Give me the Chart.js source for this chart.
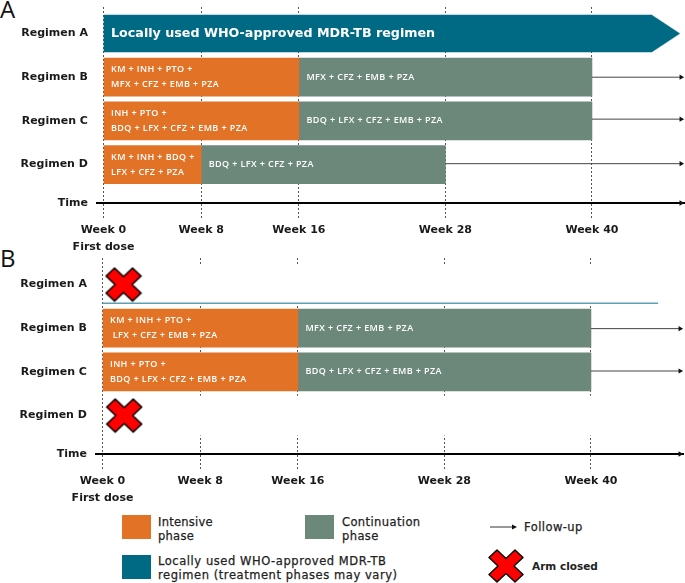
<!DOCTYPE html>
<html><head><meta charset="utf-8">
<script src="https://cdn.jsdelivr.net/npm/chart.js@4/dist/chart.umd.min.js"></script>
<style>
html,body{margin:0;padding:0;background:#fff;width:685px;height:583px;overflow:hidden;font-family:"DejaVu Sans",sans-serif;color:#222}
canvas{position:absolute;display:block}
.t{position:absolute;white-space:nowrap;font-size:11.5px;line-height:14px;letter-spacing:.25px;-webkit-text-stroke:.25px #222}
.s{position:absolute}
.p{position:absolute;font-size:24px;line-height:24px;font-family:"Open Sans",sans-serif;color:#111}
</style></head><body>
<div class="p" style="left:0;top:-3px">A</div>
<div class="p" style="left:0;top:246px">B</div>
<canvas id="a" width="685" height="254" style="left:0;top:0"></canvas>
<canvas id="b" width="685" height="255" style="left:-1px;top:251px"></canvas>
<div class="s" style="left:122px;top:515px;width:29px;height:24px;background:#E27326"></div>
<div class="t" style="left:158px;top:515px">Intensive<br>phase</div>
<div class="s" style="left:305px;top:515px;width:29px;height:24px;background:#6B887B"></div>
<div class="t" style="left:342px;top:515px;letter-spacing:.4px">Continuation<br>phase</div>
<svg class="s" style="left:489px;top:523px" width="30" height="8"><line x1="1" y1="4" x2="24" y2="4" stroke="#333" stroke-width="1"/><polygon points="23,1.5 28,4 23,6.5" fill="#111"/></svg>
<div class="t" style="left:524px;top:520px;letter-spacing:.45px">Follow-up</div>
<div class="s" style="left:122px;top:555px;width:29px;height:24px;background:#006A85"></div>
<div class="t" style="left:158px;top:554px;letter-spacing:.56px">Locally used WHO-approved MDR-TB<br>regimen (treatment phases may vary)</div>
<svg class="s" style="left:488px;top:549px" width="36" height="34"><polygon points="9,1 18,9.5 27,1 35,8.5 26,17 35,25.5 27,33 18,24.5 9,33 1,25.5 10,17 1,8.5" fill="#f00" stroke="#000" stroke-width="1.4" stroke-linejoin="round"/></svg>
<div class="t" style="left:532px;top:559px;font-size:10.5px;font-weight:bold;-webkit-text-stroke:0;letter-spacing:0">Arm closed</div>
<script>
// ---- shared ----
const regimens = ["Regimen A","Regimen B","Regimen C","Regimen D"];
const regimenRows = [0,1,2,3];
const timeRow = 3.88;
const timeLabel = "Time";
const weekTicks = [0,8,16,28,40];
const firstDoseLabel = "First dose";
const followUpEnd = 47.3;
const localEnd = 44.9;
const localTipCentre = 46.07;

// ---- panel A ----
const aIntensive = [null,[0,16],[0,16],[0,8]];
const aContinuation = [null,[16,40],[16,40],[8,28]];
const aLocal = [[0,localEnd],null,null,null];
const aFollowStart = [null,40,40,28];
const aFollowRow = [null,1,1.96,2.98];
const aIntensiveText = [null,["KM + INH + PTO +","MFX + CFZ + EMB + PZA"],["INH + PTO +","BDQ + LFX + CFZ + EMB + PZA"],["KM + INH + BDQ +","LFX + CFZ + PZA"]];
const aContinuationText = [null,"MFX + CFZ + EMB + PZA","BDQ + LFX + CFZ + EMB + PZA","BDQ + LFX + CFZ + PZA"];
const aLocalText = "Locally used WHO-approved MDR-TB regimen";

// ---- panel B ----
const bIntensive = [null,[0,16],[0,16],null];
const bContinuation = [null,[16,40],[16,40],null];
const bClosed = [[0.12,47],null,null,[0.12,47]];
const bClosedMark = [1.72,null,null,1.78];
const bFollowStart = [null,40,40,null];
const bFollowRow = [null,1.01,1.98,null];
const bDividerRow = 0.43;
const bDividerEnd = 45.5;
const bIntensiveText = [null,["KM + INH + PTO +"," LFX + CFZ + EMB + PZA"],["INH + PTO +","BDQ + LFX + CFZ + EMB + PZA"],null];
const bContinuationText = [null,"MFX + CFZ + EMB + PZA","BDQ + LFX + CFZ + EMB + PZA",null];

// ---- colours ----
const ORANGE="#E27326", GREEN="#6B887B", TEAL="#006A85", DIVIDER="#5F9FB3";
const LABEL_FONT={family:"'DejaVu Sans'",size:11,weight:"bold"};

function shape(w,h,draw){const c=document.createElement("canvas");c.width=w;c.height=h;draw(c.getContext("2d"),w,h);return c;}
const tipImage=shape(28,37,(g,w,h)=>{g.fillStyle=TEAL;g.beginPath();g.moveTo(0,0);g.lineTo(w,h/2);g.lineTo(0,h);g.closePath();g.fill();});
const crossImage=shape(38,36,(g)=>{const p=[[10,1.5],[19,10],[28,1.5],[36.5,9.5],[27.5,18],[36.5,26.5],[28,34.5],[19,26],[10,34.5],[1.5,26.5],[10.5,18],[1.5,9.5]];
  g.beginPath();p.forEach((q,i)=>i?g.lineTo(q[0],q[1]):g.moveTo(q[0],q[1]));g.closePath();g.fillStyle="#f00";g.fill();g.lineWidth=1.6;g.lineJoin="round";g.strokeStyle="#000";g.stroke();});

function rowsOf(values){return values.map((v,i)=>v===null?null:{x:v,y:regimenRows[i]}).filter(Boolean);}
function arrow(x0,x1,y,color,width,r){return {type:"line",data:[{x:x0,y},{x:x1,y}],borderColor:color,borderWidth:width,
  pointRadius:[0,r],pointStyle:"triangle",pointRotation:90,pointBackgroundColor:"#111",pointBorderWidth:0,clip:false,order:1};}

const barText={id:"barText",afterDatasetsDraw(chart,args,opts){
  const g=chart.ctx,x=chart.scales.x,y=chart.scales.y;
  g.save();g.fillStyle="#fff";g.textBaseline="middle";
  (opts.items||[]).forEach(it=>{
    g.font=it.font;g.letterSpacing=it.spacing||"0px";
    const lines=Array.isArray(it.text)?it.text:[it.text];
    const cy=y.getPixelForValue(it.row);
    lines.forEach((l,i)=>g.fillText(l,x.getPixelForValue(it.start)+7.5,cy+(i-(lines.length-1)/2)*15));
  });
  g.restore();
}};

function build(id,p){
  const H=document.getElementById(id).height;
  const datasets=[];
  if(p.closed) datasets.push({type:"bar",grouped:false,data:rowsOf(p.closed),backgroundColor:"#fff",barThickness:39,order:9});
  datasets.push({type:"bar",grouped:false,label:"Intensive phase",data:rowsOf(p.intensive),backgroundColor:ORANGE,barThickness:38,order:5});
  datasets.push({type:"bar",grouped:false,label:"Continuation phase",data:rowsOf(p.continuation),backgroundColor:GREEN,barThickness:38,order:5});
  if(p.local){
    datasets.push({type:"bar",grouped:false,label:"Locally used regimen",data:rowsOf(p.local),backgroundColor:TEAL,barThickness:37,order:5});
    datasets.push({type:"scatter",data:[{x:localTipCentre,y:regimenRows[0]}],pointStyle:tipImage,pointRadius:14,clip:false,order:4});
  }
  p.followStart.forEach((s,i)=>{if(s!==null)datasets.push(arrow(s,followUpEnd,p.followRow[i],"#444",1,3));});
  datasets.push(arrow(44,followUpEnd,timeRow,"#000",0,3.2));
  if(p.divider) datasets.push({type:"line",data:[{x:0,y:p.divider[0]},{x:p.divider[1],y:p.divider[0]}],borderColor:DIVIDER,borderWidth:1.5,pointRadius:0,order:2});
  if(p.marks) datasets.push({type:"scatter",data:rowsOf(p.marks),pointStyle:crossImage,pointRadius:18,clip:false,order:0});
  const items=[];
  p.intensiveText.forEach((t,i)=>{if(t)items.push({text:t,start:p.intensive[i][0],row:regimenRows[i],font:"600 9px 'Open Sans'",spacing:"0.4px"});});
  p.continuationText.forEach((t,i)=>{if(t)items.push({text:t,start:p.continuation[i][0],row:regimenRows[i],font:"600 9px 'Open Sans'",spacing:"0.4px"});});
  if(p.localText) items.push({text:p.localText,start:0,row:regimenRows[0]+0.01,font:"bold 12.7px 'DejaVu Sans'",spacing:"0px"});
  return new Chart(document.getElementById(id),{
    data:{datasets},
    plugins:[barText],
    options:{
      indexAxis:"y",responsive:false,animation:false,devicePixelRatio:1,
      layout:{autoPadding:false,padding:{top:7,left:0,right:0,bottom:0}},
      plugins:{legend:{display:false},tooltip:{enabled:false},barText:{items}},
      scales:{
        x:{type:"linear",position:"bottom",offset:false,min:-0.5,max:47.62,
          afterBuildTicks:s=>{s.ticks=weekTicks.map(value=>({value}));},
          afterFit:s=>{s.height=H-203;s.paddingLeft=0;s.paddingRight=0;},
          ticks:{autoSkip:false,maxRotation:0,padding:2,color:"#1a1a1a",font:{...LABEL_FONT,lineHeight:1.55},
            callback:v=>v===0?["Week 0",firstDoseLabel]:"Week "+v},
          grid:{color:"#555",lineWidth:1,tickLength:17,tickColor:"#555",tickWidth:1,tickBorderDash:[2,2]},
          border:{color:"#000",width:2,dash:[2,2]}},
        y:{type:"linear",reverse:true,offset:false,min:-0.607,max:timeRow,
          afterBuildTicks:s=>{s.ticks=[...regimenRows,timeRow].map(value=>({value}));},
          afterFit:s=>{s.width=97.4;s.paddingTop=0;s.paddingBottom=0;},
          ticks:{autoSkip:false,padding:9.5,color:"#1a1a1a",font:LABEL_FONT,
            callback:v=>v===timeRow?timeLabel:regimens[regimenRows.indexOf(v)]},
          grid:{display:false,offset:false,drawTicks:false},border:{display:false}}
      }
    }
  });
}
build("a",{intensive:aIntensive,continuation:aContinuation,local:aLocal,followStart:aFollowStart,followRow:aFollowRow,
  intensiveText:aIntensiveText,continuationText:aContinuationText,localText:aLocalText});
build("b",{intensive:bIntensive,continuation:bContinuation,closed:bClosed,marks:bClosedMark,followStart:bFollowStart,followRow:bFollowRow,
  divider:[bDividerRow,bDividerEnd],intensiveText:bIntensiveText,continuationText:bContinuationText});
</script>
</body></html>
